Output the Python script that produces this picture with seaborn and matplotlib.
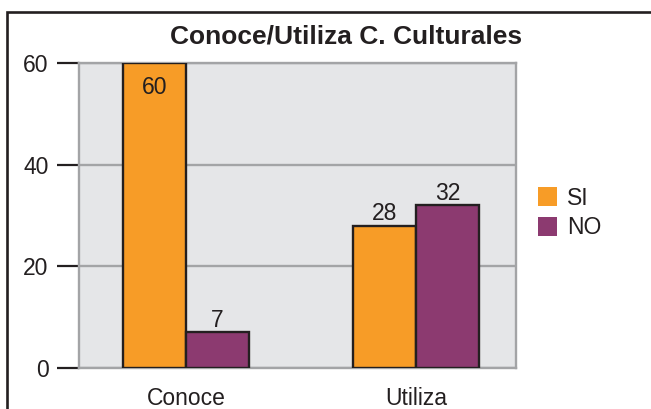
import matplotlib
matplotlib.use("Agg")
import matplotlib.pyplot as plt
from matplotlib.patches import Patch, Rectangle
import seaborn as sns
import pandas as pd

categories = ["Conoce", "Utiliza"]
series = ["SI", "NO"]
si_values = [60, 28]
no_values = [7, 32]
y_ticks = [0, 20, 40, 60]

colors = {"SI": "#F79C27", "NO": "#8C3A70"}
ink = "#231F20"

df = pd.DataFrame({
    "categoria": categories * 2,
    "respuesta": ["SI"] * len(categories) + ["NO"] * len(categories),
    "valor": si_values + no_values,
})

sns.set_theme(style="white")
plt.rcParams["font.family"] = ["Liberation Sans", "DejaVu Sans"]

W, H = 651, 409
fig = plt.figure(figsize=(W / 100, H / 100), dpi=100)
ax = fig.add_axes([79 / W, 1 - 368 / H, 437 / W, 305 / H])
ax.set_facecolor("#E5E6E8")

sns.barplot(data=df, x="categoria", y="valor", hue="respuesta",
            hue_order=series, palette=colors, width=0.55, gap=0,
            edgecolor=ink, linewidth=1.7, saturation=1,
            legend=False, ax=ax, zorder=3)

ax.set_ylim(0, 60)
ax.set_xlim(-0.465, 1.435)
ax.set_yticks(y_ticks)
ax.yaxis.grid(True, color="#A3A4A6", linewidth=1.7, zorder=0)
ax.set_axisbelow(True)
for s in ax.spines.values():
    s.set_color("#A3A4A6")
    s.set_linewidth(1.7)
ax.tick_params(axis="y", length=16, width=1.6, color=ink,
               labelsize=16.5, labelcolor=ink, pad=6, left=True)
ax.tick_params(axis="x", length=0, labelsize=16.5, labelcolor=ink, pad=13.5)
ax.set_xlabel("")
ax.set_ylabel("")

# value labels above each bar (inside when the bar reaches the top)
for cont, vals in zip(ax.containers, [si_values, no_values]):
    for bar, v in zip(cont.patches, vals):
        xc = bar.get_x() + bar.get_width() / 2
        if v >= 58:
            ax.annotate(str(v), (xc, v), xytext=(0, -9),
                        textcoords="offset points", ha="center", va="top",
                        fontsize=16.5, color=ink, zorder=4)
        else:
            ax.annotate(str(v), (xc, v), xytext=(0, 4),
                        textcoords="offset points", ha="center",
                        va="baseline", fontsize=16.5, color=ink, zorder=4)

fig.text(346 / W, 1 - 43 / H, "Conoce/Utiliza C. Culturales",
         ha="center", va="baseline", fontsize=19, fontweight="bold",
         color=ink)

handles = [Patch(facecolor=colors[s], edgecolor="none", label=s) for s in series]
fig.legend(handles=handles, loc="center left",
           bbox_to_anchor=(538 / W, 1 - 213 / H), frameon=False,
           fontsize=16.5, handlelength=0.85, handleheight=0.85,
           handletextpad=0.4, labelspacing=0.3, labelcolor=ink,
           borderaxespad=0, borderpad=0)

fig.add_artist(Rectangle((7 / W, -0.2), 2.0, 1 - 11.5 / H + 0.2,
                         transform=fig.transFigure, fill=False,
                         edgecolor=ink, linewidth=1.9))

fig.savefig("out.png", dpi=100)
